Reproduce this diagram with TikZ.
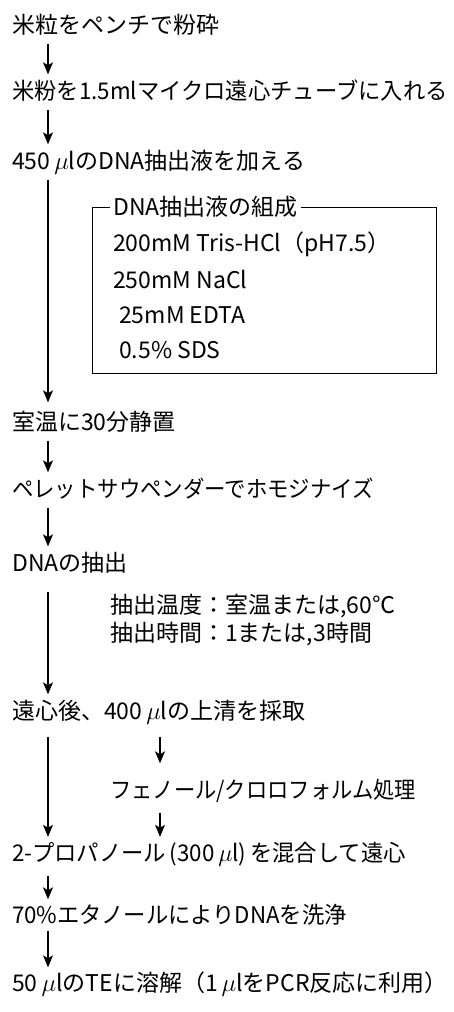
\documentclass[tikz,border=0pt]{standalone}
\usepackage{fontspec}
\setmainfont{Noto Sans CJK JP}
\usetikzlibrary{arrows.meta}
\begin{document}
\begin{tikzpicture}[x=1pt,y=-1pt,
  txt/.style={anchor=west, inner sep=0pt, text height=20.2pt, text depth=2.8pt, font=\fontsize{23pt}{27pt}\selectfont},
  arr/.style={line width=1.1pt, -{Stealth[length=12pt,width=10pt,inset=3pt]}, shorten <=7pt, shorten >=5pt},
  boxframe/.style={draw, line width=0.9pt, anchor=north west, minimum width=344pt, minimum height=166pt, inner sep=0pt}]
\useasboundingbox (0,0) rectangle (454,1012);
\coordinate (ax) at (48,0);
\coordinate (bx) at (160,0);
\node[txt] (n1) at (12,25) {米粒をペンチで粉砕};
\node[txt] (n2) at (12,91) {\scalebox{0.97}[1]{米粉を1.5mlマイクロ遠心チューブに入れる}};
\node[txt] (n3) at (12,161) {450\,$\mu$lのDNA抽出液を加える};
\node[boxframe] (box) at (92,207) {};
\node[txt, fill=white, inner xsep=3pt] (bt) at (110,207) {DNA抽出液の組成};
\node[txt] (b1) at (113,243) {200mM Tris-HCl（pH7.5）};
\node[txt] (b2) at (113,280) {250mM NaCl};
\node[txt] (b3) at (119,315) {25mM EDTA};
\node[txt] (b4) at (119,350) {0.5\% SDS};
\node[txt] (n4) at (12,422) {室温に30分静置};
\node[txt] (n5) at (12,489) {\scalebox{0.93}[1]{ペレットサウペンダーでホモジナイズ}};
\node[txt] (n6) at (12,563) {DNAの抽出};
\node[txt] (t1) at (110,605) {抽出温度：室温または,60℃};
\node[txt] (t2) at (110,633) {抽出時間：1または,3時間};
\node[txt] (n7) at (12,711) {遠心後、400\,$\mu$lの上清を採取};
\node[txt] (ph) at (110,790) {\scalebox{0.925}[1]{フェノール/クロロフォルム処理}};
\node[txt] (n8) at (12,853) {\scalebox{0.97}[1]{2-プロパノール\,(300\,$\mu$l)\,を混合して遠心}};
\node[txt] (n9) at (12,915) {\scalebox{0.97}[1]{70\%エタノールによりDNAを洗浄}};
\node[txt] (n10) at (12,983) {50\,$\mu$lのTEに溶解（1\,$\mu$lをPCR反応に利用）};
\draw[arr] (n1.south -| ax) -- (n2.north -| ax);
\draw[arr] (n2.south -| ax) -- (n3.north -| ax);
\draw[arr, shorten >=8pt] (n3.south -| ax) -- (n4.north -| ax);
\draw[arr] (n4.south -| ax) -- (n5.north -| ax);
\draw[arr] (n5.south -| ax) -- (n6.north -| ax);
\draw[arr, shorten <=17pt] (n6.south -| ax) -- (n7.north -| ax);
\draw[arr, shorten <=14pt, shorten >=4.5pt] (n7.south -| ax) -- (n8.north -| ax);
\draw[arr, shorten <=14pt, shorten >=15pt] (n7.south -| bx) -- (ph.north -| bx);
\draw[arr, shorten <=11pt, shorten >=4.5pt] (ph.south -| bx) -- (n8.north -| bx);
\draw[arr, shorten <=11pt, shorten >=4pt] (n8.south -| ax) -- (n9.north -| ax);
\draw[arr, shorten <=4pt, shorten >=4pt] (n9.south -| ax) -- (n10.north -| ax);
\end{tikzpicture}
\end{document}
